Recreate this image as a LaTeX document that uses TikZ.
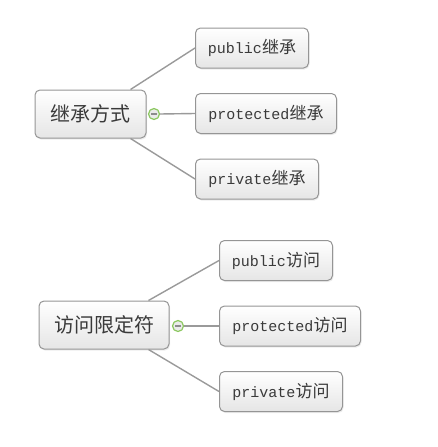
\documentclass[tikz,border=0pt]{standalone}
\usepackage{fontspec}
\setmonofont{Liberation Mono}
\newfontfamily\cjk{Noto Sans CJK SC}
\usepackage{tikz}
\usetikzlibrary{
  shadows,%
  positioning
}
\definecolor{linegray}{HTML}{9A9A9A}
\definecolor{boxgray}{HTML}{959595}
\definecolor{foldgreen}{HTML}{8CC860}
\definecolor{textgray}{HTML}{3A3A3A}
\tikzset{>=latex}
\tikzset{
  topic/.style={draw=boxgray, line width=1pt, rounded corners=5pt, top color=white,
    bottom color=black!10, drop shadow={opacity=0.15, shadow xshift=1pt,
    shadow yshift=-1.5pt}, text=textgray, inner sep=0pt},
  root/.style={topic, minimum height=48pt, font=\cjk\fontsize{20}{23}\selectfont},
  leaf/.style={topic, minimum height=40pt, anchor=west,
    font=\ttfamily\fontsize{15}{18}\selectfont},
  branch/.style={draw=linegray, line width=1.4pt},
  fold/.style={circle, draw=foldgreen, line width=1.2pt, fill=black!8,
    minimum size=11pt, inner sep=0pt}
}
\newcommand{\zh}[1]{{\cjk\fontsize{17}{18}\selectfont #1}}

\begin{document}
\begin{tikzpicture}[x=1pt,y=-1pt]
  \useasboundingbox (0,0) rectangle (438,447);

  % inheritance
  \node[root, minimum width=111pt] (jc) at (90.5,114) {继承方式};
  \node[fold] (jcfold) at (154,114) {};
  \draw[black!45, line width=1.2pt] ([xshift=-3pt]jcfold.center) -- ([xshift=3pt]jcfold.center);
  \node[leaf, minimum width=113pt] (jcpub) at (195,48) {public\zh{继承}};
  \node[leaf, minimum width=141pt] (jcpro) at (195,113.5) {protected\zh{继承}};
  \node[leaf, minimum width=123pt] (jcpri) at (195,179) {private\zh{继承}};
  \draw[branch] ([xshift=-16pt]jc.north east) -- (jcpub.west);
  \draw[branch] (jcfold.east) -- (jcpro.west);
  \draw[branch] ([xshift=-16pt]jc.south east) -- (jcpri.west);

  % access specifiers
  \node[root, minimum width=130pt] (fw) at (104,325) {访问限定符};
  \node[fold] (fwfold) at (178,326) {};
  \draw[black!45, line width=1.2pt] ([xshift=-3pt]fwfold.center) -- ([xshift=3pt]fwfold.center);
  \node[leaf, minimum width=113pt] (fwpub) at (219,260.5) {public\zh{访问}};
  \node[leaf, minimum width=141pt] (fwpro) at (219,326) {protected\zh{访问}};
  \node[leaf, minimum width=123pt] (fwpri) at (219,391.5) {private\zh{访问}};
  \draw[branch] ([xshift=-21pt]fw.north east) -- (fwpub.west);
  \draw[branch] (fwfold.east) -- (fwpro.west);
  \draw[branch] ([xshift=-21pt]fw.south east) -- (fwpri.west);
\end{tikzpicture}
\end{document}
